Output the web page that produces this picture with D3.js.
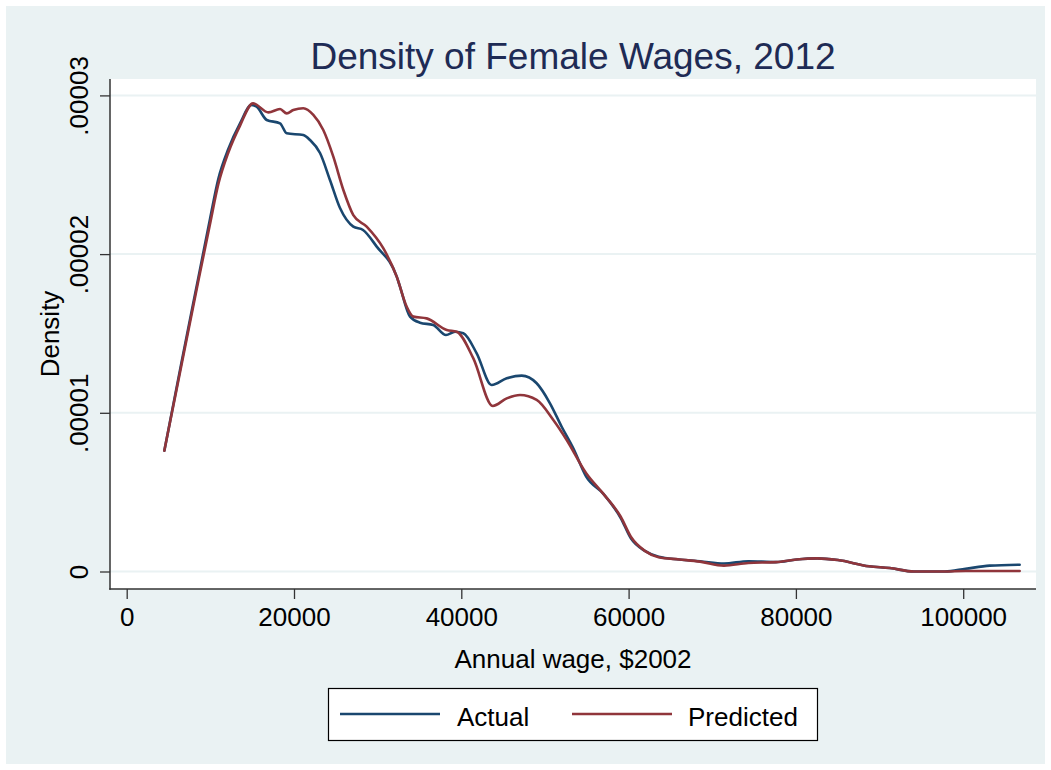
<!DOCTYPE html>
<html>
<head>
<meta charset="utf-8">
<script src="https://cdn.jsdelivr.net/npm/d3@7"></script>
<style>
  html, body { margin: 0; padding: 0; background: #ffffff; }
  svg { display: block; font-family: "Liberation Sans", Arial, Helvetica, sans-serif; }
</style>
</head>
<body>
<svg id="chart" width="1051" height="770"></svg>
<script>
// ---- data (density in units of 1e-5) ----
const chartTitle = "Density of Female Wages, 2012";
const xTitle = "Annual wage, $2002";
const yTitle = "Density";
const seriesNames = ["Actual", "Predicted"];

const wageActual = [4500, 6560, 8560, 9960, 10950, 12150, 13550, 14940, 15540, 16740, 18330, 19130,
  21110, 21910, 23110, 24300, 25500, 27090, 28250, 29890, 32280, 32670, 33870, 35060, 36650, 38170,
  39250, 40240, 41840, 43630, 45430, 47220, 49010, 50600, 52000, 53390, 54930, 56990, 59060, 60290,
  61940, 63590, 66060, 68540, 71400, 74310, 77610, 80080, 82550, 85020, 88740, 91210, 94100, 97800,
  100280, 103170, 106750];
const densityActual = [0.761, 1.320, 1.850, 2.221, 2.473, 2.662, 2.824, 2.940, 2.929, 2.845, 2.824, 2.761,
  2.750, 2.719, 2.637, 2.467, 2.290, 2.173, 2.152, 2.047, 1.858, 1.795, 1.606, 1.568, 1.553, 1.490,
  1.511, 1.501, 1.375, 1.175, 1.217, 1.234, 1.186, 1.060, 0.912, 0.776, 0.598, 0.489, 0.337, 0.207,
  0.130, 0.093, 0.076, 0.065, 0.050, 0.065, 0.059, 0.076, 0.083, 0.072, 0.033, 0.022, 0.000, 0.000,
  0.017, 0.037, 0.043];

const wagePredicted = [4500, 6560, 8560, 9960, 10950, 12150, 13550, 15100, 16940, 18330, 19130, 19920,
  21110, 22310, 23500, 24700, 25900, 27090, 28690, 30670, 32280, 33470, 34270, 35860, 38260, 39450,
  41440, 43760, 45430, 47020, 49010, 51000, 52600, 54930, 56990, 59060, 60290, 61940, 63590, 66060,
  68540, 71400, 74310, 77610, 80080, 82550, 85020, 88740, 91210, 94100, 97800, 100280, 103170, 106750];
const densityPredicted = [0.761, 1.305, 1.830, 2.190, 2.440, 2.640, 2.810, 2.950, 2.893, 2.914, 2.887, 2.908,
  2.919, 2.877, 2.782, 2.614, 2.404, 2.246, 2.173, 2.037, 1.858, 1.669, 1.606, 1.595, 1.522, 1.511,
  1.343, 1.043, 1.091, 1.112, 1.081, 0.955, 0.829, 0.619, 0.489, 0.345, 0.217, 0.130, 0.090, 0.076,
  0.062, 0.037, 0.054, 0.059, 0.076, 0.083, 0.072, 0.033, 0.022, 0.000, 0.000, 0.003, 0.003, 0.003];

const xTicks = [0, 20000, 40000, 60000, 80000, 100000];
const yTicks = [0, 1, 2, 3];
const yTickLabels = ["0", ".00001", ".00002", ".00003"];

// ---- drawing ----
const svg = d3.select("#chart");
const colors = ["#1a476f", "#90353b"];
const bg = "#eaf2f3";
const font = 26;

svg.append("rect").attr("x", 6).attr("y", 6).attr("width", 1039).attr("height", 758).attr("fill", bg);

const plot = { left: 110, right: 1036, top: 79, bottom: 589 };
svg.append("rect").attr("x", plot.left).attr("y", plot.top)
  .attr("width", plot.right - plot.left).attr("height", plot.bottom - plot.top).attr("fill", "#ffffff");

const x = d3.scaleLinear().domain([0, 100000]).range([126.7, 963.2]);
const y = d3.scaleLinear().domain([0, 3]).range([571.5, 95.4]);

// gridlines
svg.append("g").selectAll("line").data(yTicks).join("line")
  .attr("x1", plot.left).attr("x2", plot.right)
  .attr("y1", d => y(d)).attr("y2", d => y(d))
  .attr("stroke", bg).attr("stroke-width", 2);

// curves
const line = d3.line().x(d => x(d[0])).y(d => y(d[1])).curve(d3.curveMonotoneX);
const seriesData = [
  d3.zip(wageActual, densityActual),
  d3.zip(wagePredicted, densityPredicted)
];
seriesData.forEach((s, i) => {
  svg.append("path").datum(s).attr("d", line)
    .attr("fill", "none").attr("stroke", colors[i]).attr("stroke-width", 2.6)
    .attr("stroke-linejoin", "round").attr("stroke-linecap", "round");
});

// y axis
const yAxis = d3.axisLeft(y).tickValues(yTicks).tickSize(10).tickFormat((d, i) => yTickLabels[i]);
const gy = svg.append("g").attr("transform", `translate(${plot.left},0)`).call(yAxis);
gy.select(".domain").remove();
gy.selectAll(".tick line").attr("stroke", "#333").attr("stroke-width", 1.3);
gy.selectAll(".tick text")
  .attr("x", null).attr("dy", null)
  .attr("transform", "translate(-22,0) rotate(-90)")
  .attr("text-anchor", "middle")
  .attr("font-size", font).attr("fill", "#000")
  .attr("font-family", '"Liberation Sans", Arial, Helvetica, sans-serif');
svg.append("line").attr("x1", plot.left).attr("x2", plot.left)
  .attr("y1", plot.top).attr("y2", plot.bottom + 0.7)
  .attr("stroke", "#333").attr("stroke-width", 1.5);

// x axis
const xAxis = d3.axisBottom(x).tickValues(xTicks).tickSize(10).tickFormat(d3.format("d"));
const gx = svg.append("g").attr("transform", `translate(0,${plot.bottom})`).call(xAxis);
gx.select(".domain").remove();
gx.selectAll(".tick line").attr("stroke", "#333").attr("stroke-width", 1.3);
gx.selectAll(".tick text")
  .attr("y", 37).attr("dy", null)
  .attr("font-size", font).attr("fill", "#000")
  .attr("font-family", '"Liberation Sans", Arial, Helvetica, sans-serif');
svg.append("line").attr("x1", plot.left - 0.7).attr("x2", plot.right)
  .attr("y1", plot.bottom).attr("y2", plot.bottom)
  .attr("stroke", "#333").attr("stroke-width", 1.5);

// titles
svg.append("text").attr("x", 573).attr("y", 69).attr("text-anchor", "middle")
  .attr("font-size", 37).attr("fill", "#1e2b55").text(chartTitle);
svg.append("text").attr("x", 573).attr("y", 668).attr("text-anchor", "middle")
  .attr("font-size", font).attr("fill", "#000").text(xTitle);
svg.append("text").attr("transform", "translate(59,334) rotate(-90)").attr("text-anchor", "middle")
  .attr("font-size", font).attr("fill", "#000").text(yTitle);

// legend
const leg = svg.append("g");
leg.append("rect").attr("x", 328.5).attr("y", 688.5).attr("width", 489).attr("height", 52)
  .attr("fill", "#fff").attr("stroke", "#000").attr("stroke-width", 1.2);
const legItems = [
  { x1: 340, x2: 440, tx: 457 },
  { x1: 572, x2: 672, tx: 688 }
];
legItems.forEach((it, i) => {
  leg.append("line").attr("x1", it.x1).attr("x2", it.x2).attr("y1", 714).attr("y2", 714)
    .attr("stroke", colors[i]).attr("stroke-width", 2.6);
  leg.append("text").attr("x", it.tx).attr("y", 726).attr("font-size", font).attr("fill", "#000")
    .text(seriesNames[i]);
});
</script>
</body>
</html>
